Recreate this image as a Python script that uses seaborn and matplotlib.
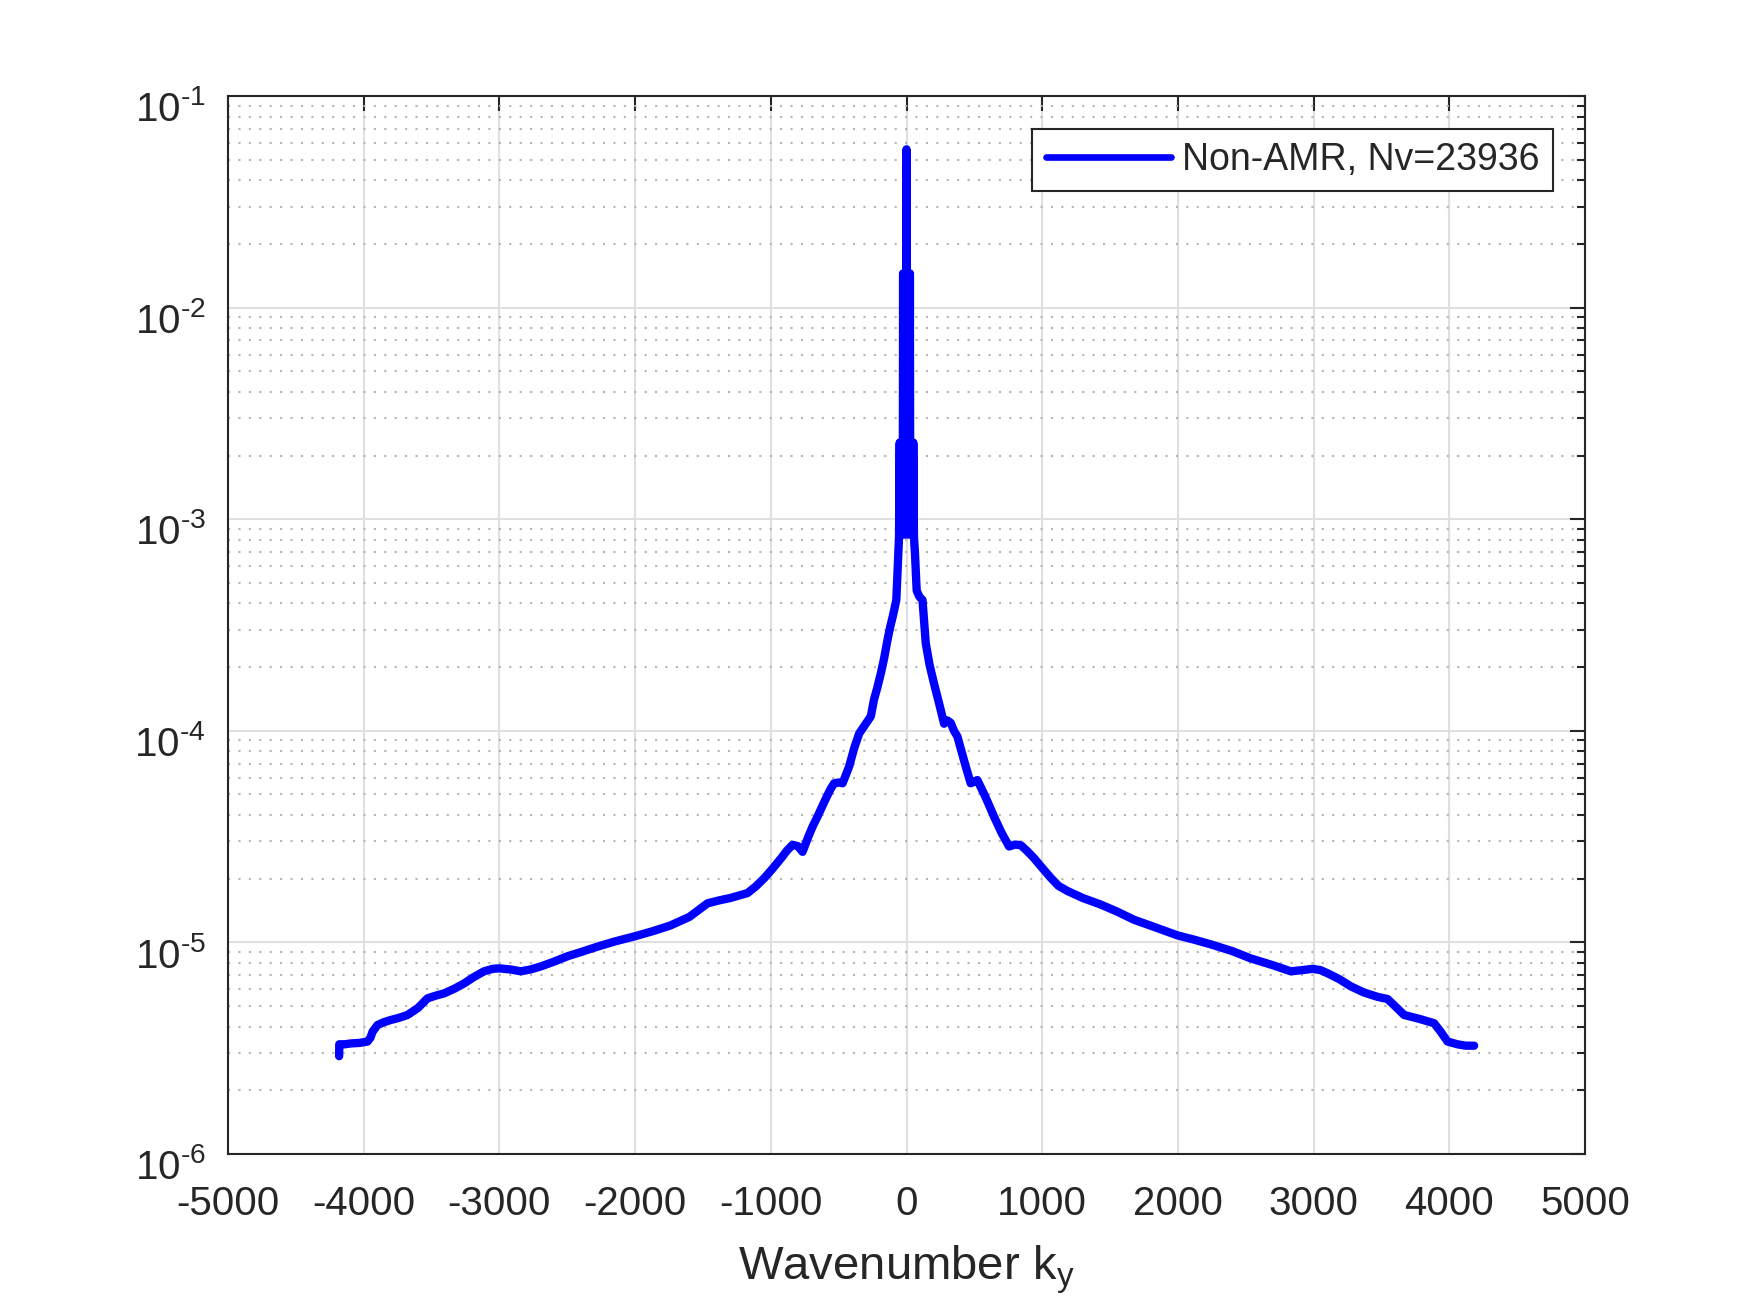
#!/usr/bin/env python3

import matplotlib
matplotlib.use("Agg")
import matplotlib.pyplot as plt
import matplotlib.ticker as ticker
import matplotlib.transforms as mtransforms
import numpy as np
import pandas as pd
import seaborn as sns

# wavenumber k_y and spectrum values
k_left = [
    -4181, -4180, -4140, -4095, -4030, -3972, -3950, -3935, -3898, -3850,
    -3800, -3740, -3677, -3600, -3530, -3470, -3408, -3330, -3260, -3190,
    -3113, -3050, -3002, -2920, -2842, -2770, -2695, -2600, -2498, -2400,
    -2277, -2150, -2000, -1870, -1743, -1600, -1466, -1380, -1300, -1172,
    -1110, -1049, -990, -926, -880, -840, -800, -766, -720, -690,
    -656, -600, -560, -533, -500, -471, -423, -385, -349, -300,
    -263, -240, -215, -189, -165, -140, -120, -100, -75, -62,
    -55,
]
psd_left = [
    2.9e-6, 3.3e-6, 3.3e-6, 3.33e-6, 3.35e-6, 3.4e-6, 3.55e-6, 3.78e-6, 4.07e-6, 4.2e-6,
    4.3e-6, 4.4e-6, 4.54e-6, 4.9e-6, 5.44e-6, 5.6e-6, 5.74e-6, 6.05e-6, 6.4e-6, 6.85e-6,
    7.3e-6, 7.5e-6, 7.54e-6, 7.45e-6, 7.3e-6, 7.45e-6, 7.7e-6, 8.1e-6, 8.6e-6, 9.0e-6,
    9.55e-6, 1.01e-5, 1.07e-5, 1.13e-5, 1.2e-5, 1.32e-5, 1.53e-5, 1.58e-5, 1.62e-5, 1.71e-5,
    1.84e-5, 2.01e-5, 2.22e-5, 2.49e-5, 2.72e-5, 2.89e-5, 2.85e-5, 2.68e-5, 3.2e-5, 3.55e-5,
    3.93e-5, 4.7e-5, 5.3e-5, 5.65e-5, 5.7e-5, 5.65e-5, 6.77e-5, 8.3e-5, 9.7e-5, 1.08e-4,
    1.17e-4, 1.4e-4, 1.6e-4, 1.87e-4, 2.2e-4, 2.69e-4, 3.1e-4, 3.5e-4, 4.15e-4, 6.5e-4,
    8.2e-4,
]

# narrow peak around k = 0 (the dense oscillation that looks filled)
k_peak = [
    -50, -47.5, -45, -42.5, -40, -37.5, -35, -32.5, -30, -27.5,
    -25, -22.5, -20, -17.5, -15, -12.5, -10, -7.5, -5, -2.5,
    0,
    2.5, 5, 7.5, 10, 12.5, 15, 17.5, 20, 22.5, 25,
    27.5, 30, 32.5, 35, 37.5, 40, 42.5, 45, 47.5, 50,
]
psd_peak = [
    2.3e-3, 8.5e-4, 2.3e-3, 8.5e-4, 2.3e-3, 8.5e-4, 2.3e-3, 8.5e-4, 2.3e-3, 8.5e-4,
    1.45e-2, 8.5e-4, 1.45e-2, 8.5e-4, 1.45e-2, 8.5e-4, 1.45e-2, 8.5e-4, 1.45e-2, 8.5e-4,
    5.6e-2,
    8.5e-4, 1.45e-2, 8.5e-4, 1.45e-2, 8.5e-4, 1.45e-2, 8.5e-4, 1.45e-2, 8.5e-4, 1.45e-2,
    8.5e-4, 2.3e-3, 8.5e-4, 2.3e-3, 8.5e-4, 2.3e-3, 8.5e-4, 2.3e-3, 8.5e-4, 2.3e-3,
]

k_right = [
    55, 62, 75, 95, 118, 142, 170, 203, 240, 277,
    300, 326, 350, 375, 436, 473, 500, 522, 580, 645,
    700, 756, 800, 842, 890, 940, 1000, 1063, 1120, 1186,
    1300, 1431, 1550, 1676, 1830, 1996, 2120, 2240, 2400, 2537,
    2700, 2832, 2920, 2992, 3050, 3102, 3190, 3274, 3370, 3471,
    3545, 3600, 3667, 3780, 3888, 3937, 3987, 4060, 4120, 4183,
]
psd_right = [
    8.2e-4, 7.0e-4, 4.6e-4, 4.3e-4, 4.15e-4, 2.59e-4, 2.05e-4, 1.67e-4, 1.35e-4, 1.08e-4,
    1.12e-4, 1.09e-4, 1.0e-4, 9.4e-5, 6.8e-5, 5.65e-5, 5.75e-5, 5.85e-5, 4.9e-5, 3.93e-5,
    3.3e-5, 2.84e-5, 2.9e-5, 2.88e-5, 2.7e-5, 2.5e-5, 2.25e-5, 2.02e-5, 1.85e-5, 1.75e-5,
    1.62e-5, 1.51e-5, 1.4e-5, 1.28e-5, 1.18e-5, 1.08e-5, 1.03e-5, 9.8e-6, 9.1e-6, 8.4e-6,
    7.8e-6, 7.3e-6, 7.4e-6, 7.5e-6, 7.4e-6, 7.15e-6, 6.7e-6, 6.2e-6, 5.8e-6, 5.53e-6,
    5.4e-6, 5.0e-6, 4.54e-6, 4.35e-6, 4.15e-6, 3.78e-6, 3.4e-6, 3.3e-6, 3.25e-6, 3.25e-6,
]

x_ticks = [-5000, -4000, -3000, -2000, -1000, 0, 1000, 2000, 3000, 4000, 5000]
x_tick_labels = ["-5000", "-4000", "-3000", "-2000", "-1000", "0",
                 "1000", "2000", "3000", "4000", "5000"]
y_ticks = [1e-6, 1e-5, 1e-4, 1e-3, 1e-2, 1e-1]
y_tick_labels = [r"$\mathdefault{10^{\text{-}6}}$", r"$\mathdefault{10^{\text{-}5}}$",
                 r"$\mathdefault{10^{\text{-}4}}$", r"$\mathdefault{10^{\text{-}3}}$",
                 r"$\mathdefault{10^{\text{-}2}}$", r"$\mathdefault{10^{\text{-}1}}$"]
series_label = "Non-AMR, Nv=23936"

df = pd.DataFrame({
    "k": k_left + k_peak + k_right,
    "psd": psd_left + psd_peak + psd_right,
})

sns.set_style("white")
plt.rcParams["font.family"] = ["Liberation Sans", "DejaVu Sans"]
plt.rcParams["mathtext.fontset"] = "custom"
plt.rcParams["mathtext.rm"] = "Liberation Sans"
plt.rcParams["mathtext.it"] = "Liberation Sans"
plt.rcParams["axes.unicode_minus"] = False
# keep the dense zig-zag of the central peak (it would be simplified away)
plt.rcParams["path.simplify"] = False

AX_COLOUR = "#262626"

fig = plt.figure(figsize=(17.5, 13.02), dpi=100)
ax = fig.add_axes([228 / 1750, 1 - 1154 / 1302, 1357 / 1750, 1058 / 1302])

sns.lineplot(
    data=df,
    x="k",
    y="psd",
    sort=False,
    estimator=None,
    color="#0000ff",
    linewidth=6.0,
    label=series_label,
    ax=ax,
    solid_capstyle="round",
    solid_joinstyle="round",
)

ax.set_yscale("log")
ax.set_xlim(-5000, 5000)
ax.set_ylim(1e-6, 1e-1)
ax.set_xticks(x_ticks)
ax.set_xticklabels(x_tick_labels)
ax.yaxis.set_major_locator(ticker.FixedLocator(y_ticks))
ax.yaxis.set_major_formatter(ticker.FixedFormatter(y_tick_labels))
ax.yaxis.set_minor_locator(ticker.LogLocator(base=10, subs=np.arange(2, 10)))
ax.yaxis.set_minor_formatter(ticker.NullFormatter())

ax.set_axisbelow(True)
ax.grid(which="major", color="#dfdfdf", linewidth=1.5, linestyle="-")
ax.grid(which="minor", axis="y", color="#b5b5b5", linewidth=1.5, linestyle=(0, (1, 4)))

for sp in ax.spines.values():
    sp.set_color(AX_COLOUR)
    sp.set_linewidth(1.5)

ax.tick_params(which="both", direction="in", top=True, right=True,
               colors=AX_COLOUR, width=1.5)
ax.tick_params(which="major", length=10.5, labelsize=29)
ax.tick_params(which="minor", length=5.5)
ax.tick_params(axis="x", which="major", pad=22)
ax.tick_params(axis="y", which="major", pad=16)

# MATLAB centres the whole "10^-n" label on the tick, so nudge them down
shift = mtransforms.ScaledTranslation(0, -7 / 72, fig.dpi_scale_trans)
for lab in ax.get_yticklabels():
    lab.set_transform(lab.get_transform() + shift)

ax.set_xlabel(r"Wavenumber k$_\mathregular{y}$", fontsize=34, color=AX_COLOUR, labelpad=15)
ax.set_ylabel("")

leg = ax.legend(
    loc="upper right",
    bbox_to_anchor=((1553 - 228) / 1357, 1 - 33 / 1058),
    borderaxespad=0,
    fontsize=27,
    frameon=True,
    fancybox=False,
    edgecolor=AX_COLOUR,
    framealpha=1,
    handlelength=3.35,
    handletextpad=0.3,
    borderpad=0.35,
)
leg.get_frame().set_linewidth(1.5)
leg.get_lines()[0].set_linewidth(4.8)

fig.savefig("out.png", dpi=100)
